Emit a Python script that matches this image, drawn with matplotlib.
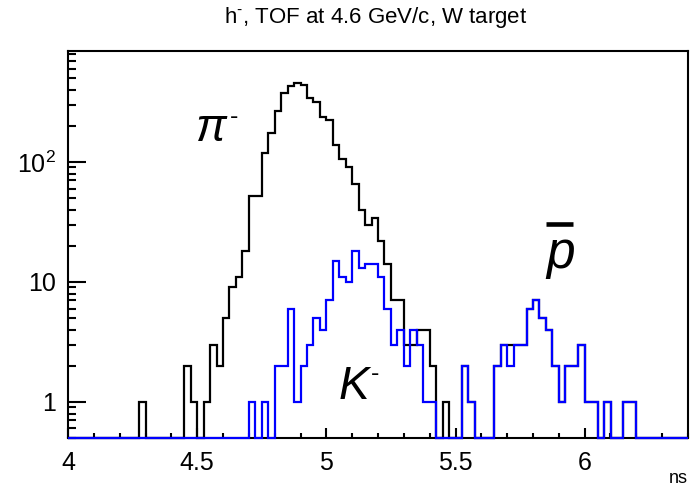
import numpy as np
import matplotlib
matplotlib.use("Agg")
import matplotlib.pyplot as plt
from matplotlib.ticker import FixedLocator, LogLocator, MultipleLocator, NullFormatter

# --- histogram binning (ns) and y range ---
X_MIN, X_MAX, N_BINS = 4.0, 6.4, 96
Y_MIN, Y_MAX = 0.5, 840.0

# --- counts per 0.025 ns bin ---
pion_counts = [
    0, 0, 0, 0, 0, 0, 0, 0, 0, 0,
    0, 1, 0, 0, 0, 0, 0, 0, 2, 1,
    0, 1, 3, 2, 5, 9, 11, 18, 52, 52,
    118, 173, 268, 375, 428, 453, 435, 338, 316, 235,
    223, 138, 105, 90, 65, 40, 30, 34, 22, 14,
    7, 7, 3, 3, 4, 4, 2, 0, 1, 0,
    0, 2, 1, 0, 0, 0, 2, 3, 3, 3,
    3, 6, 7, 5, 4, 2, 1, 2, 2, 3,
    1, 1, 0, 1, 0, 0, 1, 1, 0, 0,
    0, 0, 0, 0, 0, 0,
]
heavy_counts = [
    0, 0, 0, 0, 0, 0, 0, 0, 0, 0,
    0, 0, 0, 0, 0, 0, 0, 0, 0, 0,
    0, 0, 0, 0, 0, 0, 0, 0, 1, 0,
    1, 0, 2, 2, 6, 1, 2, 3, 5, 4,
    7, 15, 11, 10, 18, 13, 14, 14, 11, 6,
    3, 4, 2, 4, 3, 1, 1, 0, 0, 0,
    0, 2, 1, 0, 0, 0, 2, 3, 2, 3,
    3, 6, 7, 5, 4, 2, 1, 2, 2, 3,
    1, 1, 0, 1, 0, 0, 1, 1, 0, 0,
    0, 0, 0, 0, 0, 0,
]

x_ticks = [4.0, 4.5, 5.0, 5.5, 6.0]
x_tick_labels = ["4", "4.5", "5", "5.5", "6"]
y_ticks = [1, 10, 100]
y_tick_labels = ["1", "10", "$10^{2}$"]

plt.rcParams["font.family"] = ["Liberation Sans", "DejaVu Sans"]
plt.rcParams["mathtext.fontset"] = "custom"
plt.rcParams["mathtext.rm"] = "Liberation Sans"
plt.rcParams["mathtext.it"] = "Liberation Sans:italic"

edges = np.linspace(X_MIN, X_MAX, N_BINS + 1)
# empty bins sit on the lower frame like ROOT draws them
pion = np.maximum(np.array(pion_counts, dtype=float), Y_MIN)
heavy = np.maximum(np.array(heavy_counts, dtype=float), Y_MIN)

fig = plt.figure(figsize=(6.9, 4.86), dpi=100)
ax = fig.add_axes([68 / 690, 48 / 486, 620 / 690, 387 / 486])

ax.stairs(pion, edges, baseline=None, color="black", linewidth=1.6, zorder=3, clip_on=False)
ax.stairs(heavy, edges, baseline=None, color="#0000ff", linewidth=1.6, zorder=4, clip_on=False)

ax.set_yscale("log")
ax.set_xlim(X_MIN, X_MAX)
ax.set_ylim(Y_MIN, Y_MAX)

ax.xaxis.set_major_locator(FixedLocator(x_ticks))
ax.set_xticklabels(x_tick_labels)
ax.xaxis.set_minor_locator(MultipleLocator(0.1))
ax.yaxis.set_major_locator(FixedLocator(y_ticks))
ax.set_yticklabels(y_tick_labels)
ax.yaxis.set_minor_locator(LogLocator(base=10, subs=np.arange(2, 10)))
ax.yaxis.set_minor_formatter(NullFormatter())

ax.tick_params(axis="both", which="both", direction="in", width=1.5, labelsize=18,
               top=False, right=False)
ax.tick_params(axis="x", which="major", length=7, pad=9)
ax.tick_params(axis="x", which="minor", length=3.5)
ax.tick_params(axis="y", which="major", length=13, pad=9)
ax.tick_params(axis="y", which="minor", length=6)
for sp in ax.spines.values():
    sp.set_linewidth(1.5)

fig.text(376 / 690, 1 - 17 / 486, r"h$^{\text{-}}$, TOF at 4.6 GeV/c, W target",
         ha="center", va="center", fontsize=16)
fig.text(1 - 2 / 690, 3 / 486, "ns", ha="right", va="baseline", fontsize=13)

# particle labels (ROOT-style latex: big italic letter, small raised hyphen)
ax.text(4.49, 150, r"$\pi$", fontsize=33, ha="left", va="baseline")
ax.text(4.625, 207, "-", fontsize=18, ha="left", va="baseline")
ax.text(5.045, 1.05, r"$K$", fontsize=33, ha="left", va="baseline")
ax.text(5.172, 1.495, "-", fontsize=18, ha="left", va="baseline")
ax.text(5.847, 13.1, r"$p$", fontsize=37, ha="left", va="baseline")
ax.plot([5.852, 5.955], [30.3, 30.3], color="black", linewidth=3.3,
        solid_capstyle="butt", clip_on=False)

fig.savefig("out.png", dpi=100)
